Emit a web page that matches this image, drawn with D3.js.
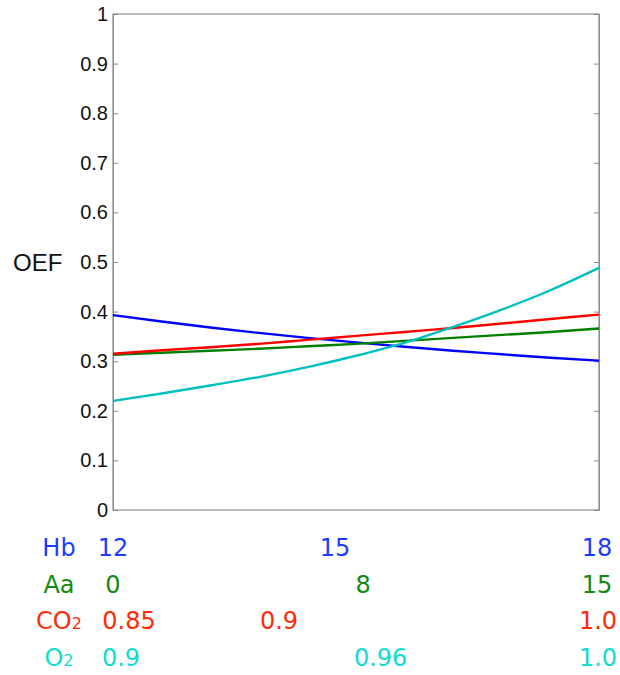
<!DOCTYPE html>
<html>
<head>
<meta charset="utf-8">
<script src="https://cdn.jsdelivr.net/npm/d3@7"></script>
<style>
    body { margin: 0; background: #fff; }
    .y-axis text { font-family: "Liberation Sans", Arial, sans-serif; font-size: 20px; fill: #111; }
    .y-axis path, .y-axis line, .r-axis path, .r-axis line { stroke: #8c8c8c; }
    .row text { font-family: "DejaVu Sans", Verdana, sans-serif; font-size: 24px; }
</style>
</head>
<body>
<div id="chart"></div>
<script>
(function() {
    var width = 620,
        height = 675;
    var margin = {top: 14, left: 113, right: 21, bottom: 165};

    // sample positions along the x axis (0 = left end, 1 = right end)
    var samplePos = [0, 0.1, 0.2, 0.3, 0.4, 0.5, 0.6, 0.7, 0.8, 0.9, 1];

    // OEF for each varied parameter
    var hbOEF  = [0.393, 0.380, 0.368, 0.357, 0.347, 0.338, 0.329, 0.321, 0.314, 0.307, 0.301];
    var aaOEF  = [0.313, 0.317, 0.321, 0.325, 0.330, 0.335, 0.341, 0.347, 0.353, 0.359, 0.366];
    var co2OEF = [0.315, 0.322, 0.328, 0.335, 0.343, 0.351, 0.359, 0.367, 0.376, 0.385, 0.394];
    var o2OEF  = [0.220, 0.235, 0.251, 0.268, 0.288, 0.311, 0.337, 0.369, 0.404, 0.443, 0.488];

    // tick labels under the plot, one row per parameter
    var hbTicks  = ["12", "15", "18"];
    var aaTicks  = ["0", "8", "15"];
    var co2Ticks = ["0.85", "0.9", "1.0"];
    var o2Ticks  = ["0.9", "0.96", "1.0"];

    var yTicks = [0, 0.1, 0.2, 0.3, 0.4, 0.5, 0.6, 0.7, 0.8, 0.9, 1];

    var plotW = width - margin.left - margin.right,
        plotH = height - margin.top - margin.bottom;

    var svg = d3.select("#chart").append("svg")
        .attr("width", width)
        .attr("height", height);

    var plot = svg.append("g")
        .attr("transform", "translate(" + margin.left + "," + margin.top + ")");

    var xScale = d3.scaleLinear().domain([0, 1]).range([0, plotW]);
    var yScale = d3.scaleLinear().domain([0, 1]).range([plotH, 0]);

    // frame
    plot.append("rect")
        .attr("x", 0).attr("y", 0)
        .attr("width", plotW).attr("height", plotH)
        .attr("fill", "none")
        .attr("stroke", "#8c8c8c")
        .attr("stroke-width", 1.2);

    var yAxis = d3.axisLeft(yScale)
        .tickValues(yTicks)
        .tickSizeInner(-5)
        .tickSizeOuter(0)
        .tickPadding(5)
        .tickFormat(function(d) { return (d === 0 || d === 1) ? String(d) : d.toFixed(1); });

    plot.append("g")
        .attr("class", "y-axis")
        .call(yAxis);

    plot.append("g")
        .attr("class", "r-axis")
        .attr("transform", "translate(" + plotW + ",0)")
        .call(d3.axisRight(yScale).tickValues(yTicks).tickSizeInner(-5).tickSizeOuter(0).tickFormat(""));

    svg.append("text")
        .attr("x", 13)
        .attr("y", margin.top + yScale(0.5))
        .attr("dy", "0.36em")
        .style("font-family", "Liberation Sans, Arial, sans-serif")
        .style("font-size", "24px")
        .attr("fill", "#111")
        .text("OEF");

    var series = [
        {name: "Hb",  values: hbOEF,  color: "#0000ff"},
        {name: "Aa",  values: aaOEF,  color: "#007f00"},
        {name: "CO2", values: co2OEF, color: "#ff0000"},
        {name: "O2",  values: o2OEF,  color: "#00bfbf"}
    ];

    var line = d3.line()
        .x(function(d, i) { return xScale(samplePos[i]); })
        .y(function(d) { return yScale(d); })
        .curve(d3.curveMonotoneX);

    plot.selectAll("path.line")
        .data(series)
        .enter()
        .append("path")
        .attr("class", "line")
        .attr("fill", "none")
        .attr("stroke", function(d) { return d.color; })
        .attr("stroke-width", 2.4)
        .attr("d", function(d) { return line(d.values); });

    // bottom parameter rows
    var rows = [
        {label: "Hb", sub: "",  ticks: hbTicks,  color: "#1a3cff"},
        {label: "Aa", sub: "",  ticks: aaTicks,  color: "#138a13"},
        {label: "CO", sub: "2", ticks: co2Ticks, color: "#ff2a0a"},
        {label: "O",  sub: "2", ticks: o2Ticks,  color: "#10dccf"}
    ];

    // hand placement tweaks for labels that were not put exactly on their value
    var nudge = [[0, -21, -2], [0, -9, -2], [16, 4, -1], [8, -24, -1]];

    var rowBase = height - margin.bottom + 46,
        rowGap = 36.5;

    rows.forEach(function(r, ri) {
        var lo = +r.ticks[0], hi = +r.ticks[r.ticks.length - 1];
        var valScale = d3.scaleLinear().domain([lo, hi]).range([margin.left, margin.left + plotW]);
        var g = svg.append("g")
            .attr("class", "row")
            .attr("transform", "translate(0," + (rowBase + ri * rowGap) + ")");

        var name = g.append("text")
            .attr("x", 59)
            .attr("text-anchor", "middle")
            .attr("fill", r.color);
        name.append("tspan").text(r.label);
        if (r.sub) name.append("tspan").style("font-size", "16px").text(r.sub);

        g.selectAll("text.tick")
            .data(r.ticks)
            .enter()
            .append("text")
            .attr("class", "tick")
            .attr("x", function(d, i) { return valScale(+d) + nudge[ri][i]; })
            .attr("text-anchor", "middle")
            .attr("fill", r.color)
            .text(function(d) { return d; });
    });
})();
</script>
</body>
</html>
